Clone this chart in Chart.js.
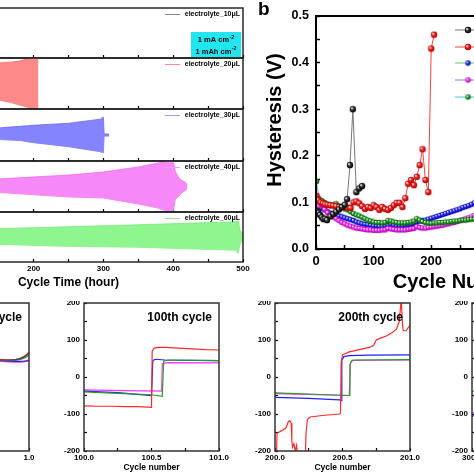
<!DOCTYPE html>
<html><head><meta charset="utf-8">
<script src="https://cdn.jsdelivr.net/npm/chart.js@4.4.0/dist/chart.umd.min.js"></script>
<style>
html,body{margin:0;padding:0;background:#fff;}
body{width:474px;height:474px;overflow:hidden;position:relative;}
canvas{position:absolute;}
</style></head><body>
<script>
// ================= DATA =================
// Panel a : voltage envelope (V) vs cycle time (hour)
const volumeLabels = ['electrolyte_10μL','electrolyte_20μL','electrolyte_30μL','electrolyte_40μL','electrolyte_60μL'];
const cycleTimeTicks = ['0','100','200','300','400','500'];
const hours10 = [0, 10, 20, 30, 40, 50, 60, 70, 80];
const up10 = [0.05, 0.05, 0.055, 0.06, 0.07, 0.08, 0.1, 0.13, 0.17];
const lo10 = [-0.04, -0.045, -0.05, -0.055, -0.06, -0.07, -0.09, -0.12, -0.16];
const hours20 = [0, 25, 50, 75, 100, 125, 150, 160, 170, 180, 190, 196, 200, 205, 207];
const up20 = [0.07, 0.08, 0.09, 0.105, 0.12, 0.14, 0.161, 0.165, 0.169, 0.176, 0.192, 0.2, 0.2, 0.2, 0.2];
const lo20 = [-0.06, -0.07, -0.08, -0.09, -0.1, -0.115, -0.129, -0.141, -0.153, -0.169, -0.184, -0.2, -0.2, -0.2, -0.2];
const hours30 = [0, 50, 100, 153, 181, 200, 250, 296, 299, 300, 301, 308];
const up30 = [0.03, 0.04, 0.05, 0.056, 0.067, 0.075, 0.09, 0.122, 0.137, 0.137, 0.008, 0.008];
const lo30 = [-0.02, -0.025, -0.03, -0.035, -0.043, -0.059, -0.09, -0.129, -0.137, -0.137, -0.008, -0.008];
const hours40 = [0, 50, 100, 153, 250, 300, 350, 378, 395, 400, 403, 407, 412, 418, 420];
const up40 = [0.035, 0.04, 0.05, 0.06, 0.09, 0.114, 0.153, 0.184, 0.2, 0.2, 0.12, 0.075, 0.05, 0.03, 0.01];
const lo40 = [-0.03, -0.035, -0.042, -0.048, -0.082, -0.09, -0.137, -0.169, -0.2, -0.2, -0.1, -0.082, -0.05, -0.03, -0.01];
const hours60 = [0, 50, 100, 153, 250, 350, 443, 490, 493, 496, 500];
const up60 = [0.045, 0.05, 0.06, 0.067, 0.082, 0.098, 0.114, 0.122, 0.13, 0.05, 0.03];
const lo60 = [-0.04, -0.045, -0.05, -0.059, -0.075, -0.082, -0.098, -0.106, -0.13, -0.05, -0.03];

// Panel b : hysteresis (V) vs cycle number
const hystXTicks = ['0','100','200','300','400','500'];
const hystYTicks = ['0.0','0.1','0.2','0.3','0.4','0.5'];
const cyc10 = [1, 4, 7, 10, 13, 16, 19, 25, 30, 35, 40, 45, 50, 54, 59, 64, 70, 75, 80];
const hyst10 = [0.082, 0.078, 0.073, 0.068, 0.064, 0.065, 0.062, 0.070, 0.075, 0.080, 0.085, 0.090, 0.095, 0.107, 0.180, 0.300, 0.122, 0.130, 0.135];
const cyc20 = [1, 4, 8, 12, 16, 20, 25, 30, 35, 40, 45, 50, 55, 60, 65, 70, 75, 80, 85, 90, 95, 100, 105, 110, 115, 120, 125, 130, 135, 140, 145, 150, 155, 160, 165, 170, 175, 180, 185, 190, 195, 200, 205];
const hyst20 = [0.114, 0.105, 0.100, 0.098, 0.096, 0.095, 0.094, 0.093, 0.092, 0.090, 0.091, 0.090, 0.089, 0.088, 0.100, 0.102, 0.098, 0.092, 0.086, 0.090, 0.088, 0.094, 0.090, 0.084, 0.090, 0.086, 0.084, 0.088, 0.094, 0.099, 0.099, 0.090, 0.109, 0.140, 0.148, 0.137, 0.155, 0.180, 0.214, 0.148, 0.122, 0.430, 0.460];
const cycDense = [1, 5, 10, 15, 20, 25, 30, 35, 40, 45, 50, 55, 60, 65, 70, 75, 80, 85, 90, 95, 100, 105, 110, 115, 120, 125, 130, 135, 140, 145, 150, 155, 160, 165, 170, 175, 180, 185, 190, 195, 200, 205, 210, 215, 220, 225, 230, 235, 240, 245, 250, 255, 260, 265, 270, 275, 280, 285, 290, 295, 300];
const hyst30 = [0.078, 0.085, 0.088, 0.084, 0.080, 0.077, 0.075, 0.073, 0.071, 0.069, 0.067, 0.065, 0.063, 0.061, 0.058, 0.056, 0.054, 0.053, 0.052, 0.051, 0.050, 0.050, 0.049, 0.049, 0.050, 0.051, 0.053, 0.051, 0.050, 0.050, 0.050, 0.051, 0.052, 0.053, 0.055, 0.058, 0.060, 0.061, 0.062, 0.064, 0.066, 0.068, 0.070, 0.072, 0.074, 0.076, 0.078, 0.080, 0.082, 0.084, 0.086, 0.089, 0.091, 0.093, 0.096, 0.099, 0.101, 0.104, 0.107, 0.110, 0.113];
const hyst40 = [0.084, 0.092, 0.095, 0.085, 0.078, 0.073, 0.069, 0.065, 0.061, 0.057, 0.054, 0.051, 0.049, 0.047, 0.045, 0.044, 0.043, 0.042, 0.041, 0.041, 0.040, 0.040, 0.040, 0.041, 0.041, 0.044, 0.043, 0.042, 0.041, 0.041, 0.041, 0.041, 0.042, 0.043, 0.044, 0.048, 0.046, 0.045, 0.045, 0.046, 0.047, 0.048, 0.049, 0.050, 0.051, 0.053, 0.054, 0.056, 0.057, 0.059, 0.061, 0.063, 0.065, 0.067, 0.069, 0.072, 0.074, 0.076, 0.078, 0.080, 0.082];
const hyst60 = [0.145, 0.108, 0.104, 0.100, 0.096, 0.093, 0.095, 0.097, 0.092, 0.089, 0.086, 0.084, 0.080, 0.076, 0.073, 0.071, 0.068, 0.065, 0.062, 0.060, 0.058, 0.057, 0.057, 0.056, 0.057, 0.061, 0.060, 0.058, 0.057, 0.056, 0.056, 0.056, 0.057, 0.058, 0.060, 0.065, 0.062, 0.059, 0.057, 0.056, 0.055, 0.056, 0.056, 0.057, 0.057, 0.058, 0.058, 0.059, 0.060, 0.060, 0.061, 0.062, 0.062, 0.063, 0.064, 0.064, 0.065, 0.065, 0.066, 0.066, 0.067];

// Bottom row : voltage (mV) within single cycles
const profileYTicks = ['-200','-100','0','100','200'];
const cycleTitles = ['1st cycle','100th cycle','200th cycle','300th cycle'];
const ticks1 = ['0.0','0.5','1.0'];
const ticks100 = ['100.0','100.5','101.0'];
const ticks200 = ['200.0','200.5','201.0'];
const ticks300 = ['300.0','300.5','301.0'];

const c1X = [0, 0.01, 0.05, 0.2, 0.4, 0.49, 0.5, 0.51, 0.53, 0.6, 0.7, 0.8, 0.85, 0.9, 0.93, 0.96, 0.98, 1.0];
const c1Red = [-150, -90, -72, -68, -66, -64, -63, 48, 55, 50, 48, 47, 46, 47, 50, 55, 60, 68];
const c1Black = [-140, -85, -68, -64, -62, -60, -60, 46, 52, 49, 47, 46, 46, 47, 49, 53, 58, 65];
const c1Green = [-130, -80, -64, -60, -58, -57, -56, 44, 50, 47, 46, 45, 45, 45, 47, 50, 54, 59];
const c1Blue = [-120, -75, -60, -56, -55, -54, -54, 42, 47, 45, 44, 44, 43, 42, 42, 43, 44, 46];
const c1Magenta = [-115, -72, -58, -54, -53, -52, -52, 40, 45, 43, 42, 42, 41, 40, 40, 41, 42, 43];

const c100RedX = [100.0, 100.1, 100.2, 100.3, 100.4, 100.5, 100.505, 100.52, 100.55, 100.6, 100.7, 100.8, 100.9, 101.0];
const c100Red = [-78, -79, -79, -80, -80, -82, 70, 78, 80, 80, 78, 76, 74, 73];
const c100BlueX = [100.0, 100.25, 100.5, 100.51, 100.53, 100.6, 100.8, 101.0];
const c100Blue = [-38, -42, -50, 45, 48, 46, 45, 44];
const c100GreenX = [100.0, 100.25, 100.5, 100.58, 100.59, 100.62, 101.0];
const c100Green = [-40, -44, -48, -52, 43, 46, 44];
const c100MagentaX = [100.0, 100.3, 100.575, 100.58, 100.62, 101.0];
const c100Magenta = [-35, -37, -38, 36, 39, 38];

const c200RedX = [200.0, 200.01, 200.015, 200.05, 200.08, 200.1, 200.11, 200.12, 200.125, 200.13, 200.14, 200.15, 200.16, 200.165, 200.225, 200.23, 200.24, 200.26, 200.35, 200.48, 200.485, 200.49, 200.5, 200.55, 200.6, 200.7, 200.73, 200.75, 200.78, 200.82, 200.87, 200.9, 200.92, 200.935, 200.945, 200.95, 200.97, 200.99, 201.0];
const c200Red = [-250, -250, -152, -145, -138, -120, -118, -125, -175, -190, -180, -200, -185, -215, -215, -150, -115, -108, -104, -100, -98, 40, 60, 68, 72, 80, 85, 100, 105, 110, 120, 130, 150, 210, 140, 125, 125, 135, 140];
const c200BlueX = [200.0, 200.25, 200.48, 200.49, 200.495, 200.51, 200.55, 200.7, 201.0];
const c200Blue = [-55, -58, -62, -64, 45, 55, 58, 59, 60];
const c200GreenX = [200.0, 200.25, 200.55, 200.555, 200.57, 200.6, 201.0];
const c200Green = [-43, -46, -50, 35, 45, 46, 47];
const c200MagentaX = [200.0, 200.3, 200.55, 200.56, 200.58, 201.0];
const c200Magenta = [-45, -48, -50, 40, 45, 46];

const c300X = [300.0, 300.5, 300.51, 301.0];
const c300Green = [-38, -45, 50, 50];
const c300Blue = [-105, -110, 100, 95];
const c300Magenta = [-97, -100, 90, 88];

// ================= RENDERING =================
const FONT = "'Liberation Sans', Arial, Helvetica, sans-serif";
Chart.defaults.font.family = FONT;
Chart.defaults.font.weight = 'bold';
Chart.defaults.color = '#000';
Chart.defaults.animation = false;
Chart.defaults.plugins.legend.display = false;
Chart.defaults.plugins.tooltip.enabled = false;

const xy = (xs, ys) => xs.map((x, i) => ({x, y: ys[i]}));

function axisCfg(o) {
  const labels = o.labels || [];
  return {
    type: 'linear', min: o.min, max: o.max, display: o.display !== false,
    afterFit: s => {
      if (o.horizontal) s.height = o.fit; else s.width = o.fit;
      s.paddingLeft = 0; s.paddingRight = 0; s.paddingTop = 0; s.paddingBottom = 0;
    },
    ticks: {
      stepSize: o.step, autoSkip: false, maxRotation: 0, minRotation: 0,
      padding: o.pad, font: {size: o.size, weight: 'bold'}, color: '#000',
      callback: v => { const l = labels.find(t => Math.abs(parseFloat(t) - v) < 1e-6); return l === undefined ? '' : l; }
    },
    grid: {drawOnChartArea: false, drawTicks: true, tickLength: o.tl, tickColor: o.tickColor || '#000', tickWidth: o.tickWidth || 1.2, color: '#000'},
    border: {display: false},
    title: o.title ? {display: true, text: o.title, font: {size: o.titleSize, weight: 'bold'}, padding: 0, color: '#000'} : {display: false}
  };
}

function decoPlugin(cfg) {
  const px = (a, ref, dx) => (ref === 'left' ? a.left : a.right) + dx;
  return {
    id: 'deco',
    beforeDatasetsDraw(chart) {
      const a = chart.chartArea, ctx = chart.ctx;
      (cfg.boxes || []).forEach(b => {
        ctx.save(); ctx.fillStyle = b.color;
        ctx.fillRect(px(a, b.ref, b.dx1), a.top + b.dy1, b.dx2 - b.dx1, b.dy2 - b.dy1);
        ctx.restore();
      });
    },
    afterDraw(chart) {
      const a = chart.chartArea, ctx = chart.ctx;
      ctx.save();
      if (cfg.frame) {
        ctx.strokeStyle = cfg.frame.color; ctx.lineWidth = cfg.frame.width;
        ctx.strokeRect(a.left, a.top, a.right - a.left, a.bottom - a.top);
      }
      (cfg.lines || []).forEach(l => {
        ctx.strokeStyle = l.color; ctx.lineWidth = l.width || 1;
        ctx.beginPath(); ctx.moveTo(px(a, l.ref, l.dx1), a.top + l.dy); ctx.lineTo(px(a, l.ref, l.dx2), a.top + l.dy); ctx.stroke();
      });
      (cfg.marks || []).forEach(m => {
        ctx.drawImage(m.img, px(a, m.ref, m.dx) - m.img.width / 2, a.top + m.dy - m.img.height / 2);
      });
      (cfg.texts || []).forEach(t => {
        const x = px(a, t.ref, t.dx), y = a.top + t.dy;
        ctx.save();
        ctx.fillStyle = t.color || '#000'; ctx.textBaseline = 'middle'; ctx.textAlign = 'left';
        ctx.font = `bold ${t.size}px ${FONT}`;
        const w1 = ctx.measureText(t.text).width;
        let w2 = 0;
        if (t.sup) { ctx.font = `bold ${t.size * 0.7}px ${FONT}`; w2 = ctx.measureText(t.sup).width + 0.5; }
        const tot = w1 + w2;
        let ox = x, oy = y;
        if (t.rot) { ctx.translate(x, y); ctx.rotate(t.rot); ox = 0; oy = 0; }
        const x0 = t.align === 'right' ? ox - tot : t.align === 'center' ? ox - tot / 2 : ox;
        ctx.font = `bold ${t.size}px ${FONT}`;
        ctx.fillText(t.text, x0, oy);
        if (t.sup) { ctx.font = `bold ${t.size * 0.7}px ${FONT}`; ctx.fillText(t.sup, x0 + w1 + 0.5, oy - t.size * 0.38); }
        ctx.restore();
      });
      ctx.restore();
    }
  };
}

function makeChart(o) {
  const p = o.pad;
  const W = Math.round(o.area.w + p.l + o.yW + p.r), H = Math.round(o.area.h + p.t + p.b + o.xH);
  const cv = document.createElement('canvas');
  cv.width = W; cv.height = H;
  cv.style.left = (o.area.x - p.l - o.yW) + 'px';
  cv.style.top = (o.area.y - p.t) + 'px';
  cv.style.width = W + 'px'; cv.style.height = H + 'px';
  document.body.appendChild(cv);
  return new Chart(cv, {
    type: 'line',
    data: {datasets: o.datasets},
    options: {
      responsive: false, animation: false, maintainAspectRatio: false,
      layout: {padding: {left: p.l, top: p.t, right: p.r, bottom: p.b}},
      elements: {line: {tension: 0}, point: {radius: 0}},
      scales: o.scales,
      plugins: {legend: {display: false}, tooltip: {enabled: false}}
    },
    plugins: [decoPlugin(o.deco || {})]
  });
}

// ---------- Panel a ----------
const aTops = [8, 58, 109, 161, 212];
const aHeights = [50, 51, 52, 51, 50];
const aBands = [
  {h: hours10, u: up10, l: lo10, fill: '#b8b8b8', line: '#9a9a9a', leg: '#888'},
  {h: hours20, u: up20, l: lo20, fill: '#ff8a8a', line: '#f26a6a', leg: '#ff8c8c'},
  {h: hours30, u: up30, l: lo30, fill: '#8484ff', line: '#6a6af5', leg: '#9a9aff'},
  {h: hours40, u: up40, l: lo40, fill: '#f788f7', line: '#ee6cee', leg: '#f29af2'},
  {h: hours60, u: up60, l: lo60, fill: '#8ff58f', line: '#78ea78', leg: '#8fe88f'}
];
aBands.forEach((b, k) => {
  const last = k === 4;
  const deco = {
    frame: {color: '#1a1a1a', width: 1.4},
    lines: [{ref: 'right', dx1: -78, dx2: -63, dy: 6.5, color: b.leg, width: 1}],
    texts: [{text: volumeLabels[k], ref: 'right', dx: -3, dy: 6.5, size: 7, align: 'right'}]
  };
  if (k === 0) {
    deco.boxes = [{ref: 'right', dx1: -52, dx2: -2, dy1: 24, dy2: 49, color: '#22e6ef'}];
    deco.texts.push({text: '1 mA cm', sup: '-2', ref: 'right', dx: -27, dy: 32, size: 7.5, align: 'center'});
    deco.texts.push({text: '1 mAh cm', sup: '-2', ref: 'right', dx: -27, dy: 43.5, size: 7.5, align: 'center'});
  }
  makeChart({
    area: {x: -106, y: aTops[k], w: 349, h: aHeights[k]},
    pad: {l: 2, t: 2, r: 10, b: last ? 2 : 1}, yW: 0, xH: last ? 28 : 0,
    deco,
    datasets: [
      {data: xy(b.h, b.u), borderColor: b.line, borderWidth: 0.8, backgroundColor: b.fill, fill: '+1', pointRadius: 0},
      {data: xy(b.h, b.l), borderColor: b.line, borderWidth: 0.8, fill: false, pointRadius: 0}
    ],
    scales: {
      x: axisCfg({min: 0, max: 500, step: 50, labels: last ? cycleTimeTicks : [], horizontal: true, fit: last ? 28 : 0,
        tl: -3, pad: 5, size: 8, title: last ? 'Cycle Time (hour)' : null, titleSize: 12}),
      y: axisCfg({min: -0.2, max: 0.2, step: 0.1, display: false, fit: 0, tl: 0, pad: 0, size: 8})
    }
  });
});

// ---------- Panel b ----------
function sphere(color, dark, r) {
  const s = Math.ceil(2 * r + 1);
  const c = document.createElement('canvas'); c.width = s; c.height = s;
  const g = c.getContext('2d');
  const grd = g.createRadialGradient(s / 2 - r * 0.35, s / 2 - r * 0.35, r * 0.1, s / 2, s / 2, r);
  grd.addColorStop(0, '#ffffff'); grd.addColorStop(0.4, color); grd.addColorStop(1, dark);
  g.fillStyle = grd; g.beginPath(); g.arc(s / 2, s / 2, r, 0, Math.PI * 2); g.fill();
  return c;
}
const bSeries = [
  {x: cyc10, y: hyst10, line: '#777777', img: sphere('#333', '#000', 3.2), order: 0},
  {x: cyc20, y: hyst20, line: '#ff4040', img: sphere('#ff2020', '#a00000', 3.2), order: 1},
  {x: cycDense, y: hyst30, line: '#66cc66', img: sphere('#2a2aff', '#0000a0', 2.7), order: 4},
  {x: cycDense, y: hyst40, line: '#9a6aff', img: sphere('#ff30ff', '#a000a0', 2.7), order: 3},
  {x: cycDense, y: hyst60, line: '#40d0d0', img: sphere('#22a022', '#0a5a0a', 2.7), order: 2}
];
const legRows = [14, 31, 47, 64, 81];
makeChart({
  area: {x: 316, y: 16, w: 287.5, h: 233},
  pad: {l: 8, t: 16, r: 10, b: 2}, yW: 53, xH: 45,
  deco: {
    frame: {color: '#000', width: 2},
    lines: bSeries.map((s, i) => ({ref: 'left', dx1: 139, dx2: 165, dy: legRows[i], color: s.line, width: 1})),
    marks: bSeries.map((s, i) => ({ref: 'left', dx: 152, dy: legRows[i], img: s.img})),
    texts: [{text: 'b', ref: 'left', dx: -58, dy: -6, size: 19, align: 'left'},
            {text: 'Hysteresis (V)', ref: 'left', dx: -41, dy: 104, size: 20, align: 'center', rot: -Math.PI / 2}]
      .concat(volumeLabels.map((t, i) => ({text: t, ref: 'left', dx: 170, dy: legRows[i], size: 10, align: 'left'})))
  },
  datasets: bSeries.map(s => ({data: xy(s.x, s.y), borderColor: s.line, borderWidth: 1, fill: false,
    pointRadius: 3, pointStyle: s.img, order: s.order})),
  scales: {
    x: axisCfg({min: 0, max: 500, step: 50, labels: hystXTicks, horizontal: true, fit: 45, tl: -4, pad: 9, size: 13,
      title: 'Cycle Number', titleSize: 20, tickWidth: 1.5}),
    y: axisCfg({min: 0, max: 0.5, step: 0.05, labels: hystYTicks, fit: 53, tl: -4, pad: 11, size: 12.5, tickWidth: 1.5})
  }
});

// ---------- Bottom row ----------
const RED = '#ff2a2a', BLUE = '#2020ff', GREEN = '#22a022', MAG = '#ff33ff', BLK = '#444444';
const panels = [
  {x: -106, min: 0, max: 1, ticks: ticks1, title: cycleTitles[0], series: [
    {x: c1X, y: c1Black, c: BLK}, {x: c1X, y: c1Red, c: RED}, {x: c1X, y: c1Green, c: GREEN},
    {x: c1X, y: c1Blue, c: BLUE}, {x: c1X, y: c1Magenta, c: MAG}]},
  {x: 84, min: 100, max: 101, ticks: ticks100, title: cycleTitles[1], series: [
    {x: c100RedX, y: c100Red, c: RED}, {x: c100GreenX, y: c100Green, c: GREEN},
    {x: c100BlueX, y: c100Blue, c: BLUE}, {x: c100MagentaX, y: c100Magenta, c: MAG}]},
  {x: 275, min: 200, max: 201, ticks: ticks200, title: cycleTitles[2], series: [
    {x: c200RedX, y: c200Red, c: RED}, {x: c200GreenX, y: c200Green, c: GREEN},
    {x: c200BlueX, y: c200Blue, c: BLUE}, {x: c200MagentaX, y: c200Magenta, c: MAG}]},
  {x: 472, min: 300, max: 301, ticks: ticks300, title: cycleTitles[3], series: [
    {x: c300X, y: c300Green, c: GREEN}, {x: c300X, y: c300Blue, c: BLUE}, {x: c300X, y: c300Magenta, c: MAG}]}
];
panels.forEach(P => {
  makeChart({
    area: {x: P.x, y: 303, w: 135, h: 148},
    pad: {l: 2, t: 2, r: 12, b: 2}, yW: 24, xH: 22,
    deco: {frame: {color: '#333', width: 1.5},
      texts: [{text: P.title, ref: 'right', dx: -7, dy: 15, size: 12, align: 'right'}]},
    datasets: P.series.map(s => ({data: xy(s.x, s.y), borderColor: s.c, borderWidth: 1.2, fill: false, pointRadius: 0})),
    scales: {
      x: axisCfg({min: P.min, max: P.max, step: 0.25, labels: P.ticks, horizontal: true, fit: 22, tl: -3, pad: 5, size: 8,
        title: 'Cycle number', titleSize: 8.5}),
      y: axisCfg({min: -200, max: 200, step: 50, labels: profileYTicks, fit: 24, tl: -3, pad: 7, size: 8})
    }
  });
});
</script>
</body></html>
